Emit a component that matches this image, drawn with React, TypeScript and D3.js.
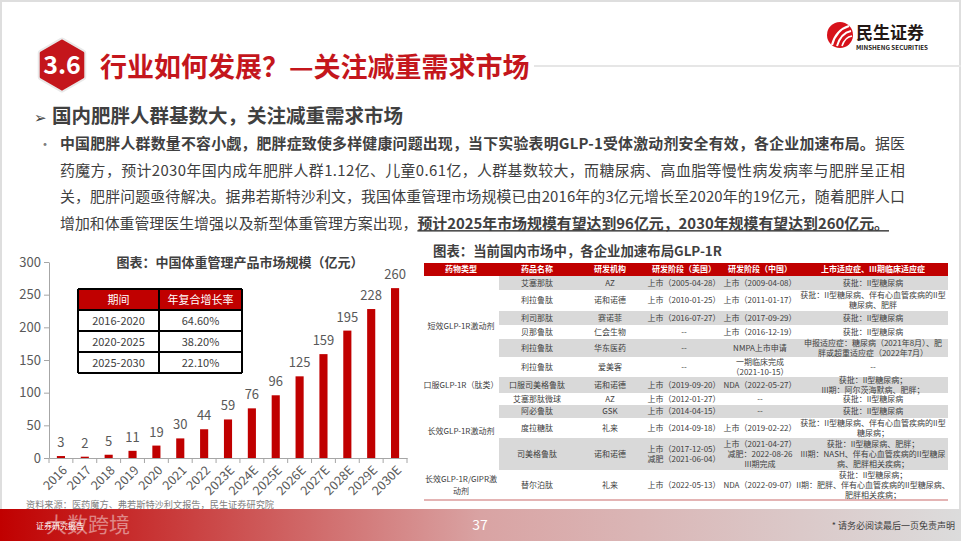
import * as d3 from "d3";
import React, { useEffect, useRef } from "react";

const FONT = "'Noto Sans CJK SC', 'Noto Sans', sans-serif";

// left chart: market size (亿元)
const years = ["2016", "2017", "2018", "2019", "2020", "2021", "2022", "2023E", "2024E", "2025E", "2026E", "2027E", "2028E", "2029E", "2030E"];
const marketSize = [3, 2, 5, 11, 19, 30, 44, 59, 76, 96, 125, 159, 195, 228, 260];
const yTicks = [0, 50, 100, 150, 200, 250, 300];

// inset CAGR table
const cagrHeader = ["期间", "年复合增长率"];
const cagrPeriods = ["2016-2020", "2020-2025", "2025-2030"];
const cagrRates = ["64.60%", "38.20%", "22.10%"];

// right table
const tableHeader = ["药物类型", "药品名称", "研发机构", "研发阶段（美国）", "研发阶段（中国）", "上市适应症、III期临床适应症"];
const groupLabels = [["短效GLP-1R激动剂"], ["口服GLP-1R（肽类）"], ["长效GLP-1R激动剂"], ["长效GLP-1R/GIPR激", "动剂"]];
const groupSpans = [6, 1, 4, 1];
const drugNames = ["艾塞那肽", "利拉鲁肽", "利司那肽", "贝那鲁肽", "利拉鲁肽", "利拉鲁肽", "口服司美格鲁肽", "艾塞那肽微球", "阿必鲁肽", "度拉糖肽", "司美格鲁肽", "替尔泊肽"];
const developers = ["AZ", "诺和诺德", "赛诺菲", "仁会生物", "华东医药", "爱美客", "诺和诺德", "AZ", "GSK", "礼来", "诺和诺德", "礼来"];
const stageUS = [
  ["上市（2005-04-28）"], ["上市（2010-01-25）"], ["上市（2016-07-27）"], ["--"], ["--"], ["--"],
  ["上市（2019-09-20）"], ["上市（2012-01-27）"], ["上市（2014-04-15）"], ["上市（2014-09-18）"],
  ["上市（2017-12-05）", "减肥（2021-06-04）"], ["上市（2022-05-13）"],
];
const stageCN = [
  ["上市（2009-04-08）"], ["上市（2011-01-17）"], ["上市（2017-09-29）"], ["上市（2016-12-19）"], ["NMPA上市申请"],
  ["一期临床完成", "（2021-10-15）"], ["NDA（2022-05-27）"], ["--"], ["--"], ["上市（2019-02-22）"],
  ["上市（2021-04-27）", "减肥：2022-08-26", "III期完成"], ["NDA（2022-09-07）"],
];
const indications = [
  ["获批：II型糖尿病"],
  ["获批：II型糖尿病、伴有心血管疾病的II型", "糖尿病、肥胖"],
  ["获批：II型糖尿病"],
  ["获批：II型糖尿病"],
  ["申报适应症：糖尿病（2021年8月）、肥", "胖或超重适应症（2022年7月）"],
  ["--"],
  ["获批：II型糖尿病；", "III期：阿尔茨海默病、肥胖；"],
  ["获批：II型糖尿病"],
  ["获批：II型糖尿病"],
  ["获批：II型糖尿病、伴有心血管疾病的II型", "糖尿病；"],
  ["获批：II型糖尿病、肥胖；", "III期：NASH、伴有心血管疾病的II型糖尿", "病、肥胖相关疾病；"],
  ["获批：II型糖尿病；", "II期：肥胖、伴有心血管疾病的II型糖尿病、", "肥胖相关疾病；"],
];
const rowHeights = [14, 21, 14, 14, 18, 20, 16, 12, 13, 20, 32, 30];
const colCenters = [461, 537, 610, 684, 760, 873];

const RED = "#c00000";
const TXT = "#404040";

function Lines({ x, cy, lines, size = 8, lh = 9.8, fill = TXT, weight = 400 }: any) {
  const n = lines.length;
  return (
    <text textAnchor="middle" fontSize={size} fill={fill} fontWeight={weight} fontFamily={FONT}>
      {lines.map((l: string, i: number) => (
        <tspan key={i} x={x} y={cy + (i - (n - 1) / 2) * lh + size * 0.36}>{l}</tspan>
      ))}
    </text>
  );
}

export default function App() {
  const xAxisRef = useRef<SVGGElement | null>(null);
  const yAxisRef = useRef<SVGGElement | null>(null);

  const x = d3.scaleBand<string>().domain(years).range([49, 407]);
  const y = d3.scaleLinear().domain([0, 300]).range([458, 262]);
  const barW = x.bandwidth() * 0.34;

  useEffect(() => {
    const gy = d3.select(yAxisRef.current!);
    gy.selectAll("*").remove();
    gy.call(d3.axisLeft(y).tickValues(yTicks).tickSize(5).tickSizeOuter(0).tickPadding(3));
    gy.attr("font-family", FONT).attr("font-size", 13);
    gy.select(".domain").attr("stroke", "#a6a6a6");
    gy.selectAll(".tick line").attr("stroke", "#a6a6a6");
    gy.selectAll(".tick text").attr("fill", "#595959");

    const gx = d3.select(xAxisRef.current!);
    gx.selectAll("*").remove();
    gx.call(d3.axisBottom(x).tickSize(0).tickSizeOuter(0).tickPadding(0));
    gx.attr("font-family", FONT).attr("font-size", 12.5);
    gx.select(".domain").attr("stroke", "#a6a6a6");
    gx.selectAll(".tick text")
      .attr("fill", "#595959")
      .attr("text-anchor", "end")
      .attr("y", 0)
      .attr("dy", "0.35em")
      .attr("transform", "translate(4,10) rotate(-45)");
    const bounds = [...years.map((d) => x(d)!), x.range()[1]];
    gx.selectAll("line.bound")
      .data(bounds)
      .join("line")
      .attr("class", "bound")
      .attr("x1", (d) => d)
      .attr("x2", (d) => d)
      .attr("y1", 0)
      .attr("y2", 5)
      .attr("stroke", "#a6a6a6");
  }, []);

  const rowTops = rowHeights.map((_, i) => 276 + d3.sum(rowHeights.slice(0, i)));
  const groupTops = groupSpans.map((_, i) => d3.sum(groupSpans.slice(0, i)));

  const hex = d3.range(6).map((i) => {
    const a = (Math.PI / 3) * i - Math.PI / 2;
    return [62 + 24 * Math.cos(a), 65 + 24 * Math.sin(a)].join(",");
  }).join(" ");

  return (
    <svg width={961} height={541} style={{ position: "absolute", left: 0, top: 0, background: "#fff" }} fontFamily={FONT}>
      <defs>
        <linearGradient id="foot" x1="0" x2="1" y1="0" y2="0">
          <stop offset="0" stopColor="#c00000" />
          <stop offset="0.5" stopColor="#d9a3a3" />
          <stop offset="1" stopColor="#dcdcdc" />
        </linearGradient>
      </defs>
      <rect x={1} y={1} width={959} height={539} fill="#fff" stroke="#dedede" strokeWidth={2} />

      {/* title */}
      <polygon points={hex} fill="#e9e9e9" stroke="#e9e9e9" strokeWidth={7} strokeLinejoin="round" />
      <polygon points={hex} fill="#c4161c" stroke="#c4161c" strokeWidth={3} strokeLinejoin="round" />
      <text x={62} y={74} textAnchor="middle" fontSize={25} fontWeight={700} fill="#fff">3.6</text>
      <text x={100} y={77} fontSize={27} fontWeight={700} fill="#c4161c">行业如何发展？—关注减重需求市场</text>
      <line x1={534} x2={961} y1={66} y2={66} stroke="#e6e6e6" strokeWidth={2} />

      {/* logo */}
      <circle cx={840} cy={35} r={13} fill="#d7121b" />
      <path d="M832,45 Q836,30 849,26" fill="none" stroke="#fff" strokeWidth={2.2} />
      <path d="M837,46 Q841,33 851,31" fill="none" stroke="#fff" strokeWidth={2} />
      <path d="M842,46 Q845,37 852,36" fill="none" stroke="#fff" strokeWidth={1.6} />
      <text x={856} y={38.5} fontSize={17} fontWeight={700} fill="#231815">民生证券</text>
      <text x={856} y={50} fontSize={5.8} fontWeight={700} fill="#231815" textLength={72} lengthAdjust="spacingAndGlyphs">MINSHENG SECURITIES</text>

      {/* section header and bullet text */}
      <text x={34} y={123} fontSize={15} fill={TXT} fontFamily="'DejaVu Sans'">➢</text>
      <text x={52} y={123} fontSize={19.5} fontWeight={700} fill={TXT}>国内肥胖人群基数大，关注减重需求市场</text>
      <text x={38} y={149} fontSize={14} fill="#7f7f7f">•</text>
      <text x={60} y={149} fontSize={14.9} fill={TXT} textLength={845} lengthAdjust="spacing">
        <tspan fontWeight={700}>中国肥胖人群数量不容小觑，肥胖症致使多样健康问题出现，当下实验表明GLP-1受体激动剂安全有效，各企业加速布局。</tspan>
        <tspan>据医</tspan>
      </text>
      <text x={60} y={175.7} fontSize={14.9} fill={TXT} textLength={845} lengthAdjust="spacing">
        药魔方，预计2030年国内成年肥胖人群1.12亿、儿童0.61亿，人群基数较大，而糖尿病、高血脂等慢性病发病率与肥胖呈正相
      </text>
      <text x={60} y={202.4} fontSize={14.9} fill={TXT} textLength={845} lengthAdjust="spacing">
        关，肥胖问题亟待解决。据弗若斯特沙利文，我国体重管理市场规模已由2016年的3亿元增长至2020年的19亿元，随着肥胖人口
      </text>
      <text x={60} y={229.1} fontSize={14.9} fill={TXT}>
        <tspan>增加和体重管理医生增强以及新型体重管理方案出现，</tspan>
        <tspan fontWeight={700} style={{ textDecoration: "underline" }}>预计2025年市场规模有望达到96亿元，2030年规模有望达到260亿元。</tspan>
      </text>

      {/* left chart */}
      <text x={240} y={267} textAnchor="middle" fontSize={13} fontWeight={700} fill={TXT}>图表：中国体重管理产品市场规模（亿元）</text>
      <g ref={yAxisRef} transform="translate(49,0)" />
      <g ref={xAxisRef} transform="translate(0,458)" />
      {years.map((yr, i) => (
        <g key={yr}>
          <rect x={x(yr)! + x.bandwidth() / 2 - barW / 2} y={y(marketSize[i])} width={barW} height={y(0) - y(marketSize[i])} fill={RED} />
          <text x={x(yr)! + x.bandwidth() / 2} y={y(marketSize[i]) - 9} textAnchor="middle" fontSize={13} fill="#595959">{marketSize[i]}</text>
        </g>
      ))}

      {/* CAGR inset */}
      <rect x={78} y={289} width={164} height={21} fill={RED} />
      {[0, 1, 2, 3, 4].map((i) => (
        <line key={i} x1={78} x2={242} y1={289 + i * 21} y2={289 + i * 21} stroke="#000" strokeWidth={2} />
      ))}
      {[78, 159, 242].map((xx) => (
        <line key={xx} x1={xx} x2={xx} y1={289} y2={373} stroke="#000" strokeWidth={2} />
      ))}
      <text x={118.5} y={303.5} textAnchor="middle" fontSize={11} fill="#fff">{cagrHeader[0]}</text>
      <text x={200.5} y={303.5} textAnchor="middle" fontSize={11} fill="#fff">{cagrHeader[1]}</text>
      {cagrPeriods.map((p, i) => (
        <g key={p}>
          <text x={118.5} y={324.5 + i * 21} textAnchor="middle" fontSize={11} fill={TXT}>{p}</text>
          <text x={200.5} y={324.5 + i * 21} textAnchor="middle" fontSize={11} fill={TXT}>{cagrRates[i]}</text>
        </g>
      ))}

      <text x={26} y={507.5} fontSize={9.2} fill="#7f7f7f">资料来源：医药魔方、弗若斯特沙利文报告，民生证券研究院</text>

      {/* right table */}
      <text x={433} y={256} fontSize={13.4} fontWeight={700} fill={TXT}>图表：当前国内市场中，各企业加速布局GLP-1R</text>
      <rect x={424} y={263} width={524} height={13} fill={RED} />
      {tableHeader.map((h, i) => (
        <Lines key={h} x={colCenters[i]} cy={269.5} lines={[h]} fill="#fff" weight={700} />
      ))}
      {rowTops.map((t, i) => (i % 2 === 0 ? <rect key={i} x={499} y={t} width={449} height={rowHeights[i]} fill="#d9d9d9" /> : null))}
      {rowTops.map((t, i) => {
        const cy = t + rowHeights[i] / 2;
        return (
          <g key={i}>
            <Lines x={colCenters[1]} cy={cy} lines={[drugNames[i]]} />
            <Lines x={colCenters[2]} cy={cy} lines={[developers[i]]} />
            <Lines x={colCenters[3]} cy={cy} lines={stageUS[i]} />
            <Lines x={colCenters[4]} cy={cy} lines={stageCN[i]} />
            <Lines x={colCenters[5]} cy={cy} lines={indications[i]} />
          </g>
        );
      })}
      {groupLabels.map((lab, g) => {
        const top = rowTops[groupTops[g]];
        const last = groupTops[g] + groupSpans[g] - 1;
        const bottom = rowTops[last] + rowHeights[last];
        return <Lines key={g} x={colCenters[0]} cy={(top + bottom) / 2} lines={lab} lh={11.5} />;
      })}
      <line x1={424} x2={948} y1={500} y2={500} stroke="#c96a6a" strokeWidth={1.2} />

      {/* footer */}
      <rect x={0} y={509} width={961} height={32} fill="url(#foot)" />
      <text x={46} y={532} fontSize={21} fill="#fff" opacity={0.45}>大数跨境</text>
      <text x={36} y={529} fontSize={8} fill="#fff">证券研究报告</text>
      <text x={480} y={530} textAnchor="middle" fontSize={14} fill="#fff">37</text>
      <text x={955} y={529} textAnchor="end" fontSize={9} fill={TXT}>* 请务必阅读最后一页免责声明</text>
    </svg>
  );
}
